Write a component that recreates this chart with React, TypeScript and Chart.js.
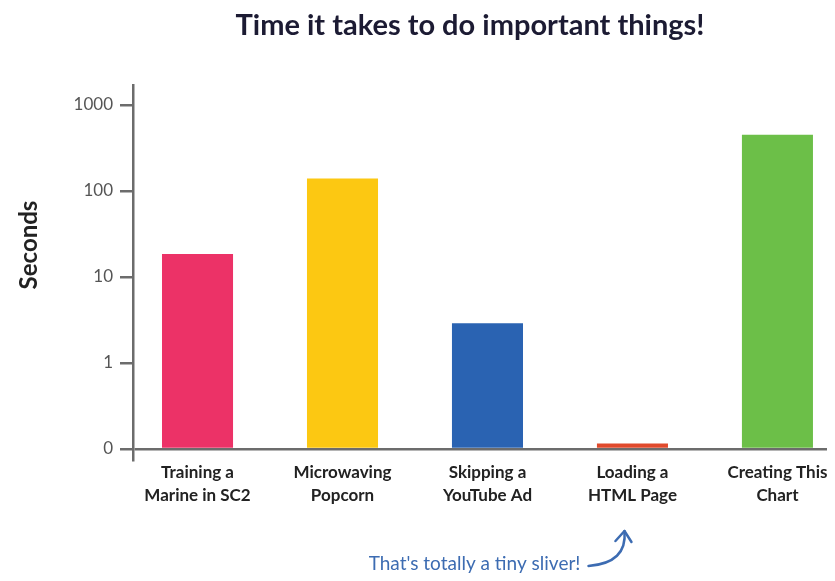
import React, { useEffect, useRef } from 'react';
import { Chart, registerables } from 'chart.js';

Chart.register(...registerables);

// ---- data ----
const categoryLines: string[][] = [
  ['Training a', 'Marine in SC2'],
  ['Microwaving', 'Popcorn'],
  ['Skipping a', 'YouTube Ad'],
  ['Loading a', 'HTML Page'],
  ['Creating This', 'Chart'],
];
const seconds = [18.5, 140, 2.9, 0.116, 450];
const barColors = ['#ec3267', '#fcc812', '#2a63b2', '#e04a2c', '#6cbf48'];
const yTickValues = [0.1, 1, 10, 100, 1000];
const yTickLabels = ['0', '1', '10', '100', '1000'];
const titleText = 'Time it takes to do important things!';
const yAxisTitle = 'Seconds';
const noteText = "That's totally a tiny sliver!";
const noteTargetIndex = 3;

const FONT = "Lato, 'Open Sans', 'DejaVu Sans', sans-serif";
const AXIS = '#6c6c6c';
const NOTE = '#3d6cb2';

const annotatePlugin = {
  id: 'annotate',
  afterDraw(chart: any) {
    const { ctx, chartArea, scales } = chart;
    ctx.save();
    // title
    ctx.fillStyle = '#1c1b33';
    ctx.font = `bold 29px ${FONT}`;
    ctx.textAlign = 'center';
    ctx.textBaseline = 'alphabetic';
    ctx.fillText(titleText, 462, 27);

    // y axis title
    ctx.save();
    ctx.translate(21, 237);
    ctx.rotate(-Math.PI / 2);
    ctx.font = `bold 24px ${FONT}`;
    ctx.fillStyle = '#222';
    ctx.textAlign = 'center';
    ctx.textBaseline = 'middle';
    ctx.fillText(yAxisTitle, 0, 0);
    ctx.restore();

    // note + arrow
    const bx = scales.x.getPixelForValue(noteTargetIndex);
    const base = chartArea.bottom;
    ctx.fillStyle = NOTE;
    ctx.font = `19px ${FONT}`;
    ctx.textAlign = 'right';
    ctx.textBaseline = 'alphabetic';
    ctx.fillText(noteText, bx - 52, base + 110);

    const sx = bx - 44, sy = base + 106;
    const tx = bx - 8, ty = base + 71;
    ctx.strokeStyle = NOTE;
    ctx.lineWidth = 2.5;
    ctx.lineCap = 'round';
    ctx.lineJoin = 'round';
    ctx.beginPath();
    ctx.moveTo(sx, sy);
    ctx.quadraticCurveTo(tx + 3, sy - 3, tx, ty);
    ctx.stroke();
    ctx.beginPath();
    ctx.moveTo(tx - 9, ty + 10);
    ctx.lineTo(tx, ty);
    ctx.lineTo(tx + 7, ty + 11);
    ctx.stroke();
    ctx.restore();
  },
};

export default function App() {
  const ref = useRef<HTMLCanvasElement | null>(null);

  useEffect(() => {
    if (!ref.current) return;
    const chart = new Chart(ref.current, {
      type: 'bar',
      data: {
        datasets: [
          {
            data: seconds.map((v, i) => ({ x: i, y: v })),
            backgroundColor: barColors,
            borderWidth: 0,
            base: yTickValues[0],
            barPercentage: 0.49,
            categoryPercentage: 1,
          } as any,
        ],
      },
      options: {
        animation: false,
        responsive: false,
        maintainAspectRatio: false,
        layout: { padding: { top: 77, left: 0, right: 0, bottom: 0 } },
        plugins: {
          legend: { display: false },
          title: { display: false },
          tooltip: { enabled: false },
        },
        scales: {
          x: {
            type: 'linear',
            min: -0.445,
            max: 4.397,
            offset: false,
            grid: { display: false, drawTicks: false, tickLength: 0 },
            border: { display: false },
            afterBuildTicks: (s: any) => {
              s.ticks = categoryLines.map((_, i) => ({ value: i }));
            },
            afterFit: (s: any) => {
              s.height = 121;
            },
            ticks: {
              autoSkip: false,
              maxRotation: 0,
              minRotation: 0,
              padding: 1,
              color: '#222',
              font: { family: FONT, size: 17, weight: 'bold', lineHeight: 1.35 },
              callback: (_v: any, i: number) => categoryLines[i],
            },
          } as any,
          y: {
            type: 'logarithmic',
            min: 0.0745,
            max: 1708,
            afterBuildTicks: (s: any) => {
              s.ticks = yTickValues.map((v) => ({ value: v }));
            },
            afterFit: (s: any) => {
              s.width = 125;
            },
            grid: {
              color: (c: any) => (c.tick && c.tick.value === yTickValues[0] ? AXIS : 'rgba(0,0,0,0)'),
              tickColor: AXIS,
              tickLength: 13,
              lineWidth: 2.5,
              drawOnChartArea: true,
            },
            border: { display: true, color: AXIS, width: 2.5 },
            ticks: {
              padding: 7,
              color: '#555',
              font: { family: FONT, size: 17 },
              callback: (_v: any, i: number) => yTickLabels[i],
            },
          } as any,
        },
      },
      plugins: [annotatePlugin],
    });
    return () => chart.destroy();
  }, []);

  return (
    <canvas
      ref={ref}
      width={827}
      height={573}
      style={{ display: 'block', marginBottom: -8 }}
    />
  );
}
